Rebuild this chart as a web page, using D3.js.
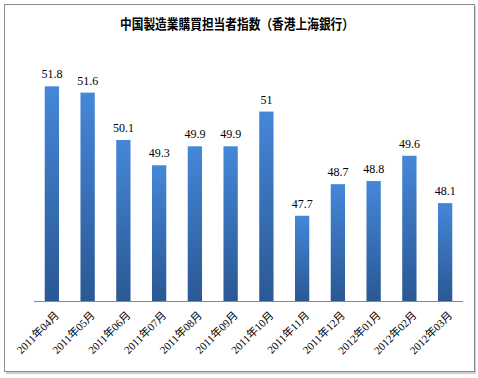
<!DOCTYPE html>
<html>
<head>
<meta charset="utf-8">
<script src="https://cdn.jsdelivr.net/npm/d3@7"></script>
<style>
  body { margin: 0; background: #fff; }
  svg { display: block; }
</style>
</head>
<body>
<div id="chart"></div>
<script>
// data
const months = ["2011年04月", "2011年05月", "2011年06月", "2011年07月", "2011年08月", "2011年09月",
  "2011年10月", "2011年11月", "2011年12月", "2012年01月", "2012年02月", "2012年03月"];
const pmi = [51.8, 51.6, 50.1, 49.3, 49.9, 49.9, 51, 47.7, 48.7, 48.8, 49.6, 48.1];
const yDomain = [45, 52];
const title = "中国製造業購買担当者指数（香港上海銀行）";

const W = 478, H = 378;
const margin = { top: 80, right: 15, bottom: 77, left: 34 };
const width = W - margin.left - margin.right,
  height = H - margin.top - margin.bottom;

const svg = d3.select("#chart").append("svg")
  .attr("width", W)
  .attr("height", H);

// outer frame with small shadow
svg.append("rect")
  .attr("x", 6).attr("y", 6).attr("width", 470).attr("height", 368)
  .attr("fill", "#cfcfcf");
svg.append("rect")
  .attr("x", 4.5).attr("y", 4.5).attr("width", 470).attr("height", 367)
  .attr("fill", "#fff").attr("stroke", "#8c8c8c");

const defs = svg.append("defs");
const grad = defs.append("linearGradient")
  .attr("id", "barGrad")
  .attr("x1", 0).attr("y1", 0).attr("x2", 0).attr("y2", 1);
grad.append("stop").attr("offset", "0%").attr("stop-color", "#4587d8");
grad.append("stop").attr("offset", "100%").attr("stop-color", "#2a5894");

svg.append("text")
  .attr("x", 237).attr("y", 29)
  .attr("text-anchor", "middle")
  .attr("font-family", "'Noto Sans CJK JP', sans-serif")
  .attr("font-weight", "bold")
  .attr("font-size", 13.5)
  .attr("textLength", 234)
  .attr("lengthAdjust", "spacingAndGlyphs")
  .attr("fill", "#000")
  .text(title);

const g = svg.append("g")
  .attr("transform", "translate(" + margin.left + "," + margin.top + ")");

const x = d3.scaleBand().domain(months).range([0, width]).paddingInner(0.6).paddingOuter(0.3);
const y = d3.scaleLinear().domain(yDomain).range([height, 0]);

// bars
g.selectAll(".bar")
  .data(pmi)
  .enter()
  .append("rect")
  .attr("class", "bar")
  .attr("x", (d, i) => x(months[i]))
  .attr("y", d => y(d))
  .attr("width", x.bandwidth())
  .attr("height", d => height - y(d))
  .attr("fill", "url(#barGrad)");

// value labels
g.selectAll(".val")
  .data(pmi)
  .enter()
  .append("text")
  .attr("class", "val")
  .attr("x", (d, i) => x(months[i]) + x.bandwidth() / 2)
  .attr("y", d => y(d) - 8)
  .attr("text-anchor", "middle")
  .attr("font-family", "'Liberation Serif', serif")
  .attr("font-size", 12)
  .attr("fill", "#000")
  .text(d => d);

// x axis
const xAxis = g.append("g")
  .attr("transform", "translate(0," + height + ")")
  .call(d3.axisBottom(x).tickSize(0).tickPadding(0));
xAxis.select(".domain").attr("stroke", "#888").attr("d", "M0,0.5H" + width);
xAxis.selectAll("text")
  .attr("font-family", "'Liberation Serif', 'Noto Sans CJK JP', serif")
  .attr("font-size", 11)
  .attr("fill", "#000")
  .attr("text-anchor", "end")
  .attr("dy", 0)
  .attr("transform", "translate(8,15) rotate(-45)");
</script>
</body>
</html>
